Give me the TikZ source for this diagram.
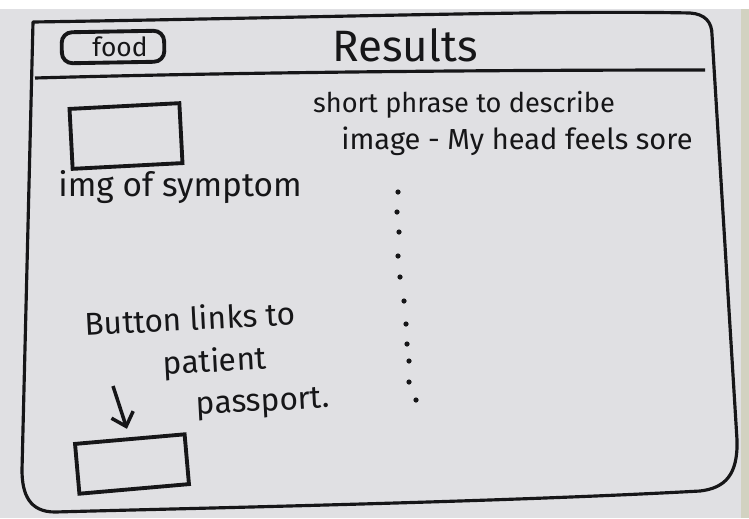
\documentclass[tikz,border=0pt]{standalone}
\usepackage{fontspec}
\setmainfont{Fira Sans}
\usetikzlibrary{arrows.meta}
\definecolor{paper}{RGB}{224,224,227}
\definecolor{ink}{RGB}{22,22,24}
\begin{document}
\begin{tikzpicture}[x=0.02cm, y=-0.02cm,
    frame/.style={draw=ink, line width=1.8pt, line join=round},
    box/.style={draw=ink, line width=2.2pt, minimum width=2.2cm, inner sep=0pt},
    note/.style={text=ink, inner sep=0pt},
    dot/.style={fill=ink}]
    \useasboundingbox (0,0) rectangle (749,518);
    \fill[paper] (0,0) rectangle (749,518);
    \fill[white] (0,0) rectangle (749,9);
    \fill[paper!85!olive] (741,9) rectangle (749,518);

    % outer screen
    \draw[frame] (33,22) .. controls (300,18) and (550,10) .. (690,13)
        .. controls (705,14) and (712,22) .. (712,35) -- (737,440)
        .. controls (738,475) and (725,488) .. (700,491)
        .. controls (500,502) and (200,508) .. (55,512)
        .. controls (30,512) and (22,495) .. (22,470) -- cycle;
    \draw[frame] (35,78) .. controls (250,72) and (500,70) .. (705,70);

    % header
    \node[box, rounded corners=6pt, minimum width=2.05cm, minimum height=0.62cm, rotate=1] (food) at (113,47) {};
    \node[note, font=\fontsize{15}{15}\selectfont] (foodtxt) at (120,47) {food};
    \node[note, font=\fontsize{25}{25}\selectfont] (title) at (405,45) {Results};

    % symptom row
    \node[box, minimum width=2.2cm, minimum height=1.2cm, rotate=3] (img) at (126,136) {};
    \node[note, font=\fontsize{19}{19}\selectfont] (imgtxt) at (180,187) {img of symptom};
    \node[note, font=\fontsize{15.5}{15.5}\selectfont] (phrase) at (464,105) {short phrase to describe};
    \node[note, font=\fontsize{16.5}{16.5}\selectfont] (example) at (517,141) {image - My head feels sore};

    % more results
    \foreach \px/\py in {398/192, 397/212, 399/232, 398/256, 400/277, 404/301,
                         406/324, 407/344, 409/361, 409/382, 416/400}
        \fill[dot] (\px,\py) circle (2.6);

    % passport button
    \node[note, font=\fontsize{18}{18}\selectfont, rotate=3] (btntxt) at (190,318) {Button links to};
    \node[note, font=\fontsize{18}{18}\selectfont, rotate=3] (pattxt) at (215,363) {patient};
    \node[note, font=\fontsize{18}{18}\selectfont, rotate=3] (passtxt) at (263,404) {passport.};
    \node[box, minimum width=2.2cm, minimum height=1.0cm, rotate=5] (btn) at (132,464) {};
    \coordinate (tail) at (113,386);
    \draw[ink, line width=2pt, shorten >=5pt, -{Straight Barb[length=7pt, width=13pt]}] (tail) -- (btn.north);
\end{tikzpicture}
\end{document}
